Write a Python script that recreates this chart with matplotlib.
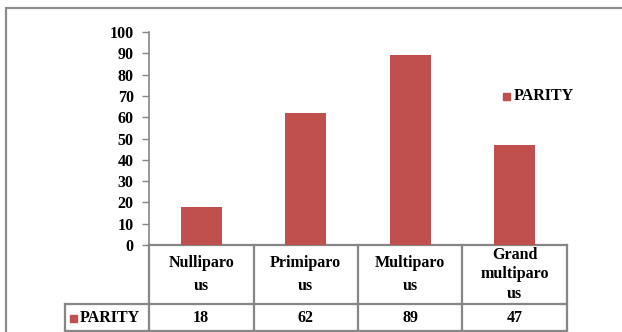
import numpy as np
import matplotlib
matplotlib.use("Agg")
import matplotlib.pyplot as plt
import matplotlib.transforms as mtransforms
from matplotlib.patches import Rectangle

# ===== DATA =====
categories = ["Nulliparo\nus", "Primiparo\nus", "Multiparo\nus", "Grand\nmultiparo\nus"]
values = [18, 62, 89, 47]
series_name = "PARITY"
yticks = list(range(0, 101, 10))

bar_color = "#C0504D"
grid_color = "#868686"

plt.rcParams["font.family"] = ["Liberation Serif", "DejaVu Serif"]
plt.rcParams["font.weight"] = "bold"
FS = 11.5

W, H = 622, 332
fig = plt.figure(figsize=(W / 100, H / 100), dpi=100)

# outer chart frame
fig.patches.append(Rectangle((6 / W, -0.05), 1.1, (332 - 8) / H + 0.05,
                             transform=fig.transFigure, fill=False,
                             edgecolor="#8c8c8c", linewidth=1.6))

# plot area (pixels): x 149..567, y 32..245
x0, x1 = 149, 567
ytop, ybot = 32, 245
ax = fig.add_axes([x0 / W, (H - ybot) / H, (x1 - x0) / W, (ybot - ytop) / H])

x = np.arange(len(categories))
ax.bar(x, values, width=0.39, color=bar_color, zorder=3)

ax.set_xlim(-0.5, len(categories) - 0.5)
ax.set_ylim(0, 100)
ax.set_yticks(yticks)
ax.set_yticklabels([str(t) for t in yticks], fontsize=FS, fontweight="bold")
ax.tick_params(axis="y", direction="out", length=5, width=1, color=grid_color, pad=6)
ax.set_xticks([])
for s in ["top", "right", "bottom"]:
    ax.spines[s].set_visible(False)
ax.spines["left"].set_color(grid_color)
ax.spines["left"].set_linewidth(1.2)

# ===== DATA TABLE =====
trans = mtransforms.blended_transform_factory(ax.transData, fig.transFigure)
y_axis = (H - ybot) / H
y_mid = (H - 304) / H
y_low = (H - 331) / H
lw = 1.6

for yy in [y_axis, y_mid, y_low]:
    ax.plot([-0.5, len(categories) - 0.5], [yy, yy], transform=trans,
            color=grid_color, lw=lw, clip_on=False)
for i in range(len(categories) + 1):
    ax.plot([i - 0.5, i - 0.5], [y_low, y_axis], transform=trans,
            color=grid_color, lw=lw, clip_on=False)

# left header cell
fig.add_artist(plt.Line2D([65 / W, x0 / W], [y_mid, y_mid], color=grid_color, lw=lw))
fig.add_artist(plt.Line2D([65 / W, x0 / W], [y_low, y_low], color=grid_color, lw=lw))
fig.add_artist(plt.Line2D([65 / W, 65 / W], [y_low, y_mid], color=grid_color, lw=lw))

for i, (cat, val) in enumerate(zip(categories, values)):
    ls = 1.55 if cat.count("\n") == 1 else 1.3
    ax.text(i, (y_axis + y_mid) / 2, cat, transform=trans, ha="center", va="center",
            fontsize=FS, fontweight="bold", linespacing=ls)
    ax.text(i, (y_mid + y_low) / 2, str(val), transform=trans, ha="center", va="center",
            fontsize=FS, fontweight="bold")

fig.patches.append(Rectangle((70 / W, (H - 322) / H), 7 / W, 7 / H,
                             transform=fig.transFigure, color=bar_color))
fig.text(80 / W, (y_mid + y_low) / 2, series_name, ha="left", va="center",
         fontsize=FS, fontweight="bold")

# ===== LEGEND =====
fig.patches.append(Rectangle((503 / W, (H - 100) / H), 7 / W, 7 / H,
                             transform=fig.transFigure, color=bar_color))
fig.text(514 / W, (H - 96) / H, series_name, ha="left", va="center",
         fontsize=FS, fontweight="bold")

fig.savefig("out.png", dpi=100)
